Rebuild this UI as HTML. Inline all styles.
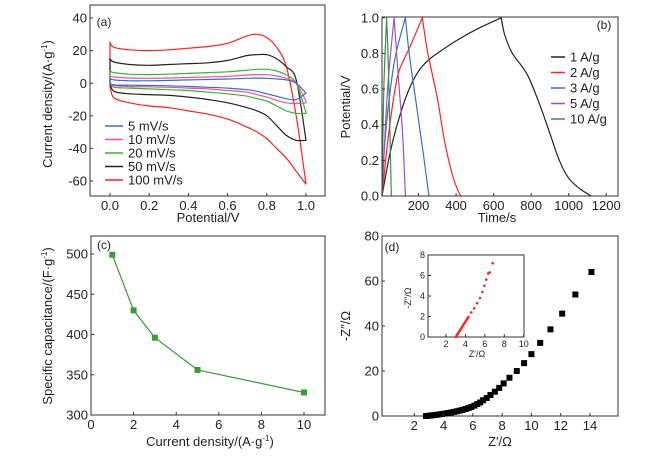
<!DOCTYPE html>
<html><head><meta charset="utf-8"><style>
html,body{margin:0;padding:0;background:#fff;}
svg{display:block;font-family:"Liberation Sans",sans-serif;}
</style></head><body>
<svg id="fig" width="659" height="459" viewBox="0 0 659 459" xmlns="http://www.w3.org/2000/svg"></svg>
<script>
// ---- Panel (a) CV data ----
const cvPotential=[0,0.02,0.1,0.2,0.3,0.4,0.5,0.6,0.7,0.75,0.8,0.85,0.9,0.95,1.0];
const cvLabels=["5 mV/s","10 mV/s","20 mV/s","50 mV/s","100 mV/s"];
const cvColors=["#3a6fc0","#f050b0","#40b030","#222222","#ff2020"];
const cvUpper5=[3,2,1.5,1.5,1.7,2,2.3,2.6,3,3.1,3,2.6,2,0,-6];
const cvLower5=[0,-1,-1.2,-1.4,-1.6,-2,-2.5,-3,-4,-5,-6.5,-8,-9.5,-10,-6];
const cvUpper10=[4.5,3.8,3.2,3,3.2,3.5,3.8,4.2,5,5.2,5.2,4.5,3,0,-11];
const cvLower10=[0,-1.5,-2,-2.2,-2.5,-3,-3.5,-4.5,-5.5,-7,-8.5,-10.5,-12,-12.5,-12];
const cvUpper20=[7.5,6.5,5.5,5.3,5.5,6,6.5,7,8,8.5,8.5,7.5,5,0,-18];
const cvLower20=[0,-2.5,-3,-3.5,-4,-4.5,-5.5,-6.5,-8,-9.5,-11,-14,-17,-18.5,-18.5];
const cvUpper50=[15,13,11.5,11,11.5,12,12.5,14,17,17.5,17.5,15,10,2,-35];
const cvLower50=[0,-5,-6.5,-7,-7.5,-8.5,-10,-12,-15,-17,-20,-26,-32,-35,-35];
const cvUpper100=[25,22,20.5,20,20.5,21.5,22.5,24.5,29,30,28,22,10,-20,-62];
const cvLower100=[-2,-9,-12,-14,-15,-17,-19,-22,-27,-30,-34,-40,-46,-54,-62];
const aXTicks=[0,0.2,0.4,0.6,0.8,1.0];
const aXTickLabels=["0.0","0.2","0.4","0.6","0.8","1.0"];
const aYTicks=[40,20,0,-20,-40,-60];
// ---- Panel (b) GCD data ----
const gcdLabels=["1 A/g","2 A/g","3 A/g","5 A/g","10 A/g"];
const gcdColors=["#222222","#ff2020","#3a6fc0","#a050c0","#3a8f4a"];
const gcdT1=[0,50,100,150,200,250,300,400,500,600,640,660,700,780,850,900,950,1000,1060,1120];
const gcdV1=[0,0.25,0.45,0.6,0.7,0.76,0.8,0.87,0.93,0.98,1.0,0.9,0.8,0.68,0.5,0.35,0.2,0.1,0.04,0];
const gcdT2=[0,30,60,90,120,160,220,250,300,340,380,410,425];
const gcdV2=[0,0.25,0.5,0.68,0.76,0.85,1.0,0.8,0.55,0.3,0.12,0.03,0];
const gcdT3=[0,20,50,80,130,150,190,230,255];
const gcdV3=[0,0.3,0.6,0.8,1.0,0.8,0.5,0.2,0];
const gcdT5=[0,35,70,90,115,130];
const gcdV5=[0,0.6,1.0,0.7,0.35,0];
const gcdT10=[0,15,30,40,55];
const gcdV10=[0,0.6,1.0,0.7,0];
const bXTicks=[200,400,600,800,1000,1200];
const bYTicks=[0,0.2,0.4,0.6,0.8,1.0];
const bYTickLabels=["0.0","0.2","0.4","0.6","0.8","1.0"];
// ---- Panel (c) capacitance ----
const capCurrent=[1,2,3,5,10];
const capValue=[499,430,396,356,328];
const cXTicks=[0,2,4,6,8,10];
const cYTicks=[300,350,400,450,500];
// ---- Panel (d) EIS ----
const eisRe=[2.8,2.9,3.1,3.3,3.5,3.7,3.9,4.1,4.3,4.5,4.7,4.9,5.1,5.3,5.5,5.7,5.9,6.1,6.3,6.5,6.7,6.95,7.2,7.5,7.8,8.1,8.5,9.0,9.5,10.0,10.6,11.3,12.1,13.0,14.1];
const eisIm=[0,0.05,0.2,0.35,0.5,0.7,0.9,1.1,1.3,1.5,1.8,2.1,2.4,2.7,3.1,3.5,4,4.6,5.3,6,7,8,9.3,10.8,12.5,14.5,17,20,23.5,27.5,32.5,38.5,45.5,54,64];
const insetRe=[3.0,3.1,3.2,3.3,3.4,3.5,3.6,3.7,3.8,3.9,4.0,4.1,4.2,4.3,4.6,4.9,5.2,5.5,5.75,5.95,6.15,6.35,6.5,6.8];
const insetIm=[0,0.15,0.3,0.45,0.6,0.75,0.9,1.05,1.2,1.35,1.5,1.65,1.8,1.95,2.4,2.8,3.3,3.8,4.4,5.0,5.6,6.2,6.3,7.2];
const dXTicks=[2,4,6,8,10,12,14];
const dYTicks=[0,20,40,60,80];
const insXTicks=[2,4,6,8,10];
const insYTicks=[0,2,4,6,8];

const NS="http://www.w3.org/2000/svg";
const fig=document.getElementById('fig');
function mk(tag,attrs,parent,text){const e=document.createElementNS(NS,tag);for(const k in attrs)e.setAttribute(k,attrs[k]);if(text!==undefined)e.textContent=text;(parent||fig).appendChild(e);return e;}
function lin(d0,d1,p0,p1){return v=>p0+(v-d0)*(p1-p0)/(d1-d0);}

function axesBox(g,L,T,R,B){const r=mk('rect',{x:L,y:T,width:R-L,height:B-T,fill:'none',stroke:'#333','stroke-width':1},g);

}
function xTicks(g,sx,B,ticks,labels,fs){ticks.forEach((v,i)=>{const x=sx(v);
const t=mk('line',{x1:x,y1:B,x2:x,y2:B-3,stroke:'#333'},g);


const l=mk('text',{x:x,y:B+fs+1,'font-size':fs,'text-anchor':'middle',fill:'#222'},g,labels?labels[i]:String(v));

});}
function yTicks(g,sy,L,ticks,labels,fs){ticks.forEach((v,i)=>{const y=sy(v);
const t=mk('line',{x1:L,y1:y,x2:L+3,y2:y,stroke:'#333'},g);


const l=mk('text',{x:L-3,y:y+fs*0.35,'font-size':fs,'text-anchor':'end',fill:'#222'},g,labels?labels[i]:String(v));

});}
function label(g,x,y,txt,name,rot,fs){const a={x:x,y:y,'font-size':fs||13,'text-anchor':'middle',fill:'#222'};if(rot)a.transform='rotate(-90 '+x+' '+y+')';const t=mk('text',a,g);t.innerHTML=txt;

return t;}
function pathFrom(xs,ys,sx,sy){return xs.map((v,i)=>(i?'L':'M')+sx(v).toFixed(1)+' '+sy(ys[i]).toFixed(1)).join(' ');}
// smooth Catmull-Rom through points; breaks (kinks) at given indices
function smooth(xs,ys,sx,sy,kinks,move){const P=xs.map((v,i)=>[sx(v),sy(ys[i])]);let d=(move===false?'L':'M')+P[0][0].toFixed(1)+' '+P[0][1].toFixed(1);
for(let i=0;i<P.length-1;i++){const k0=kinks.includes(i),k1=kinks.includes(i+1);
const p0=(i===0||k0)?P[i]:P[i-1],p1=P[i],p2=P[i+1],p3=(i+2>=P.length||k1)?P[i+1]:P[i+2];
const c1=[p1[0]+(p2[0]-p0[0])/6,p1[1]+(p2[1]-p0[1])/6],c2=[p2[0]-(p3[0]-p1[0])/6,p2[1]-(p3[1]-p1[1])/6];
d+=' C'+c1.map(n=>n.toFixed(1)).join(' ')+' '+c2.map(n=>n.toFixed(1)).join(' ')+' '+p2[0].toFixed(1)+' '+p2[1].toFixed(1);}
return d;}

// ---------- Panel A ----------
(function(){const g=mk('g',{});


const L=90,R=325,T=5,B=196;const sx=lin(0,1,110,306),sy=lin(40,-60,18,181);
axesBox(g,L,T,R,B);
const ups=[cvUpper5,cvUpper10,cvUpper20,cvUpper50,cvUpper100],lows=[cvLower5,cvLower10,cvLower20,cvLower50,cvLower100];
for(let k=4;k>=0;k--){const rp=cvPotential.slice().reverse(),rl=lows[k].slice().reverse();
const d=smooth(cvPotential,ups[k],sx,sy,[0])+' '+smooth(rp,rl,sx,sy,[0],false)+' Z';
const p=mk('path',{d:d,fill:'none',stroke:cvColors[k],'stroke-width':1.2},g);

}
xTicks(g,sx,B,aXTicks,aXTickLabels,13);yTicks(g,sy,L,aYTicks,null,13);
cvLabels.forEach((s,i)=>{const y=126+i*13.5;
const ln=mk('line',{x1:105,y1:y,x2:123,y2:y,stroke:cvColors[i],'stroke-width':1.5},g);


const t=mk('text',{x:128,y:y+4.5,'font-size':13,fill:'#222'},g,s);

});
label(g,104,26,'(a)','panel-label-a',false,12);
label(g,208,222,'Potential/V','x-axis-title');
label(g,52,104,'Current density/(A·g<tspan font-size="8" dy="-5">-1</tspan><tspan dy="5">)</tspan>','y-axis-title',true);
})();

// ---------- Panel B ----------
(function(){const g=mk('g',{});


const L=382,R=618,T=17,B=196;const sx=lin(0,1000,381,568.7),sy=lin(0,1,196,17.7);
const ts=[gcdT1,gcdT2,gcdT3,gcdT5,gcdT10],vs=[gcdV1,gcdV2,gcdV3,gcdV5,gcdV10];
for(let k=0;k<5;k++){const peak=vs[k].indexOf(1.0);
const p=mk('path',{d:smooth(ts[k],vs[k],v=>Math.max(sx(v),L),sy,[0,peak]),fill:'none',stroke:gcdColors[k],'stroke-width':1.2},g);

}
axesBox(g,L,T,R,B);
xTicks(g,sx,B,bXTicks,null,13);yTicks(g,sy,L,bYTicks,bYTickLabels,13);
gcdLabels.forEach((s,i)=>{const y=57+i*15.5;
const ln=mk('line',{x1:551,y1:y,x2:565,y2:y,stroke:gcdColors[i],'stroke-width':1.5},g);


const t=mk('text',{x:570,y:y+4.5,'font-size':13,fill:'#222'},g,s);

});
label(g,604,29,'(b)','panel-label-b',false,12);
label(g,497,222,'Time/s','x-axis-title');
label(g,350,107,'Potential/V','y-axis-title',true);
})();

// ---------- Panel C ----------
(function(){const g=mk('g',{});


const L=91,R=325,T=236,B=415;const sx=lin(0,10,91,304),sy=lin(300,500,415,254);
axesBox(g,L,T,R,B);
const p=mk('path',{d:pathFrom(capCurrent,capValue,sx,sy),fill:'none',stroke:'#3a9a3a','stroke-width':1.2},g);


capCurrent.forEach((v,i)=>{const r=mk('rect',{x:sx(v)-3,y:sy(capValue[i])-3,width:6,height:6,fill:'#3a9a3a'},g);

});
xTicks(g,sx,B,cXTicks,null,13);yTicks(g,sy,L,cYTicks,null,13);
label(g,104,249,'(c)','panel-label-c',false,12);
label(g,210,446,'Current density/(A·g<tspan font-size="8" dy="-5">-1</tspan><tspan dy="5">)</tspan>','x-axis-title');
label(g,52,326,'Specific capacitance/(F·g<tspan font-size="8" dy="-5">-1</tspan><tspan dy="5">)</tspan>','y-axis-title',true);
})();

// ---------- Panel D ----------
(function(){const g=mk('g',{});


const L=382,R=618,T=236,B=416;const sx=lin(0,14,385,590),sy=lin(0,80,416,236);
axesBox(g,L,T,R,B);
eisRe.forEach((v,i)=>{const r=mk('rect',{x:sx(v)-3,y:sy(eisIm[i])-3,width:6,height:6,fill:'#000'},g);

});
xTicks(g,sx,B,dXTicks,null,13);yTicks(g,sy,L,dYTicks,null,13);
label(g,392,251,'(d)','panel-label-d',false,12);
label(g,500,446,'Z′/Ω','x-axis-title');
label(g,350,326,'-Z″/Ω','y-axis-title',true);
const iL=428,iR=524,iT=255,iB=337;const ix=lin(0,10,426.6,523.7),iy=lin(0,8,337,255);
const ig=mk('g',{},g);


axesBox(ig,iL,iT,iR,iB);
insetRe.forEach((v,i)=>{const c=mk('circle',{cx:ix(v),cy:iy(insetIm[i]),r:1.3,fill:'#ff2020'},ig);

});
xTicks(ig,ix,iB,insXTicks,null,9);yTicks(ig,iy,iL,insYTicks,null,9);
label(ig,477,357,'Z′/Ω','inset-x-axis-title',false,9);
label(ig,411,298,'-Z″/Ω','inset-y-axis-title',true,9);
})();
</script>
</body></html>
